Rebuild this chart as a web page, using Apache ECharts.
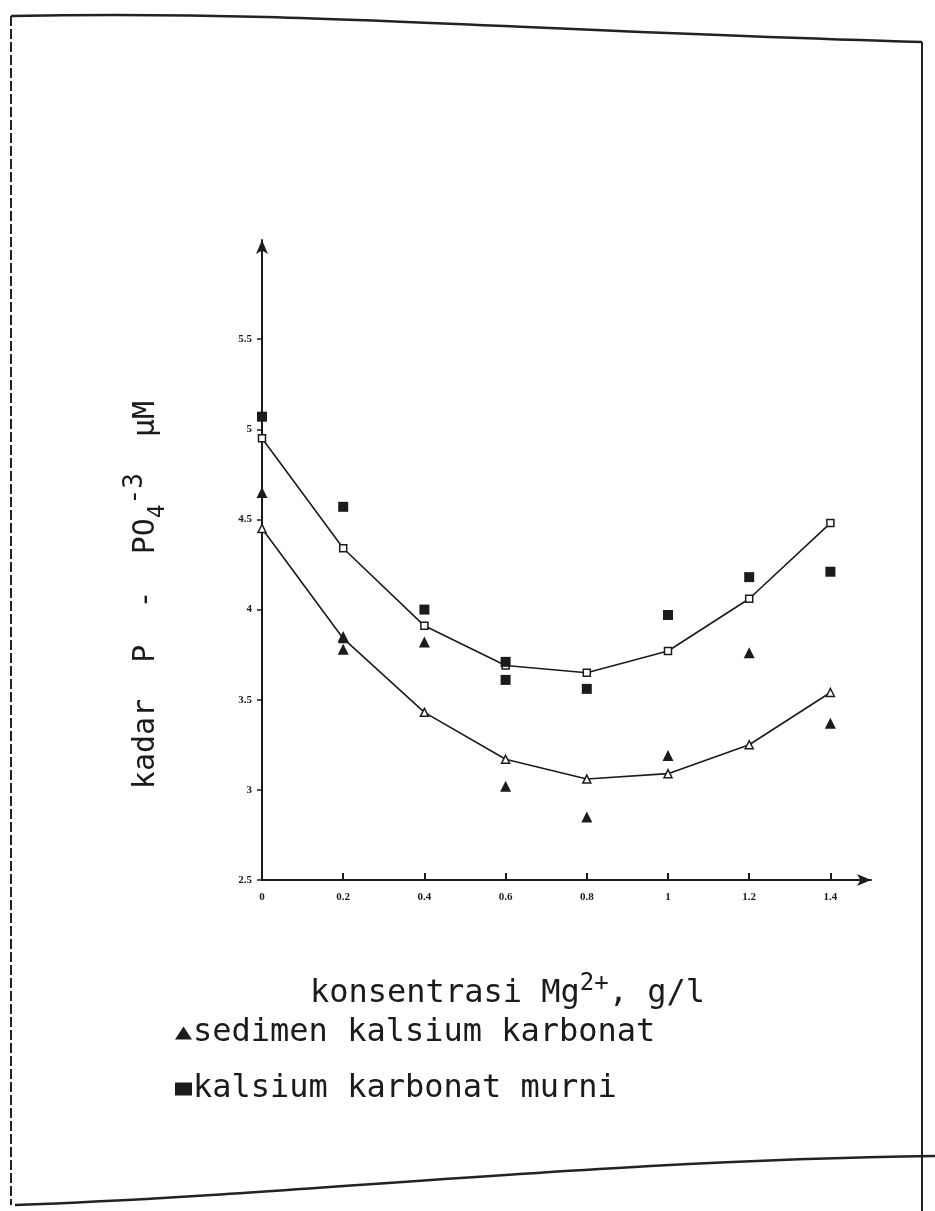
<!DOCTYPE html>
<html>
<head>
<meta charset="utf-8">
<script src="https://cdn.jsdelivr.net/npm/echarts@6/dist/echarts.min.js"></script>
<style>
html,body{margin:0;padding:0;background:#fff;}
#chart{width:935px;height:1211px;}
</style>
</head>
<body>
<div id="chart"></div>
<script>
// ---- data ----
const xTicks = [0, 0.2, 0.4, 0.6, 0.8, 1, 1.2, 1.4];
const yTicks = [2.5, 3, 3.5, 4, 4.5, 5, 5.5];

const fitX = [0, 0.2, 0.4, 0.6, 0.8, 1.0, 1.2, 1.4];
const murniFit = [4.95, 4.34, 3.91, 3.69, 3.65, 3.77, 4.06, 4.48];
const sedimenFit = [4.45, 3.84, 3.43, 3.17, 3.06, 3.09, 3.25, 3.54];

const murniX = [0, 0.2, 0.4, 0.6, 0.6, 0.8, 1.0, 1.2, 1.4];
const murniY = [5.07, 4.57, 4.00, 3.71, 3.61, 3.56, 3.97, 4.18, 4.21];

const sedimenX = [0, 0.2, 0.2, 0.4, 0.6, 0.8, 1.0, 1.2, 1.4];
const sedimenY = [4.65, 3.85, 3.78, 3.82, 3.02, 2.85, 3.19, 3.76, 3.37];

const nameSedimen = 'sedimen kalsium karbonat';
const nameMurni = 'kalsium karbonat murni';

const zip = (a, b) => a.map((v, i) => [v, b[i]]);

const MONO = '"DejaVu Sans Mono", "Liberation Mono", monospace';
const INK = '#1b1b1b';

const chart = echarts.init(document.getElementById('chart'));
chart.setOption({
  backgroundColor: '#ffffff',
  animation: false,
  grid: { left: 262, right: 64, top: 240, bottom: 331 },
  xAxis: {
    type: 'value', min: 0, max: 1.5,
    axisLine: { lineStyle: { color: INK, width: 2 }, symbol: ['none', 'arrow'], symbolSize: [9, 14] },
    axisTick: { show: true, inside: true, length: 7, customValues: xTicks, lineStyle: { color: INK, width: 2 } },
    axisLabel: { customValues: xTicks, color: INK, fontFamily: '"Liberation Serif", serif', fontWeight: 'bold', fontSize: 11, margin: 12 },
    splitLine: { show: false },
    name: 'konsentrasi Mg{sup|2+}, g/l',
    nameLocation: 'middle',
    nameGap: 92,
    nameTextStyle: {
      fontFamily: MONO, fontSize: 32, color: INK, lineHeight: 44,
      padding: [0, 118, 0, 0],
      rich: { sup: { fontFamily: MONO, fontSize: 24, color: INK, verticalAlign: 'top', lineHeight: 44 } }
    }
  },
  yAxis: {
    type: 'value', min: 2.5, max: 6.05,
    axisLine: { onZero: false, lineStyle: { color: INK, width: 2 }, symbol: ['none', 'arrow'], symbolSize: [9, 14] },
    axisTick: { show: true, inside: false, length: 5, customValues: yTicks, lineStyle: { color: INK, width: 1.5 } },
    axisLabel: { customValues: yTicks, color: INK, fontFamily: '"Liberation Serif", serif', fontWeight: 'bold', fontSize: 11, margin: 10 },
    splitLine: { show: false },
    name: 'kadar  P  -  PO{sub|4}{sup|-3}  µM',
    nameLocation: 'middle',
    nameGap: 92,
    nameTextStyle: {
      fontFamily: MONO, fontSize: 30, color: INK, lineHeight: 48,
      padding: [0, 70, 0, 0],
      rich: {
        sub: { fontFamily: MONO, fontSize: 23, color: INK, verticalAlign: 'bottom', lineHeight: 48 },
        sup: { fontFamily: MONO, fontSize: 26, color: INK, verticalAlign: 'top', lineHeight: 48 }
      }
    }
  },
  legend: {
    data: [
      { name: nameSedimen, icon: 'triangle' },
      { name: nameMurni, icon: 'rect' }
    ],
    orient: 'vertical',
    left: 170, top: 1012,
    itemGap: 24,
    itemWidth: 17, itemHeight: 13,
    textStyle: { fontFamily: MONO, fontSize: 32, color: INK, padding: [0, 0, 0, -4] }
  },
  series: [
    {
      name: 'fit murni', type: 'line', data: zip(fitX, murniFit),
      symbol: 'rect', symbolSize: 7, showAllSymbol: true,
      itemStyle: { color: '#fff', borderColor: INK, borderWidth: 1.5 },
      lineStyle: { color: INK, width: 1.6 }, z: 3, silent: true
    },
    {
      name: 'fit sedimen', type: 'line', data: zip(fitX, sedimenFit),
      symbol: 'triangle', symbolSize: 8, showAllSymbol: true,
      itemStyle: { color: '#fff', borderColor: INK, borderWidth: 1.5 },
      lineStyle: { color: INK, width: 1.6 }, z: 3, silent: true
    },
    {
      name: nameMurni, type: 'scatter', data: zip(murniX, murniY),
      symbol: 'rect', symbolSize: 10,
      itemStyle: { color: INK, opacity: 1 }, z: 4
    },
    {
      name: nameSedimen, type: 'scatter', data: zip(sedimenX, sedimenY),
      symbol: 'triangle', symbolSize: 11,
      itemStyle: { color: INK, opacity: 1 }, z: 4
    }
  ],
  graphic: [
    // scanned page frame
    { type: 'line', shape: { x1: 11, y1: 16, x2: 11, y2: 1205 }, style: { stroke: '#222', lineWidth: 2, lineDash: [10, 3] }, silent: true },
    { type: 'bezierCurve', shape: { x1: 11, y1: 16, cpx1: 300, cpy1: 10, cpx2: 500, cpy2: 30, x2: 922, y2: 42 }, style: { stroke: '#222', lineWidth: 2.5, fill: 'none' }, silent: true },
    { type: 'line', shape: { x1: 922, y1: 42, x2: 922, y2: 1211 }, style: { stroke: '#222', lineWidth: 2 }, silent: true },
    { type: 'bezierCurve', shape: { x1: 15, y1: 1205, cpx1: 300, cpy1: 1195, cpx2: 600, cpy2: 1160, x2: 935, y2: 1156 }, style: { stroke: '#222', lineWidth: 2.5, fill: 'none' }, silent: true }
  ]
});
</script>
</body>
</html>
